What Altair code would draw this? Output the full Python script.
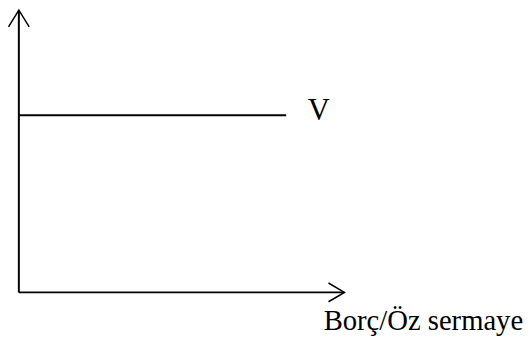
import altair as alt
import pandas as pd

# Diagram values (abstract units)
x_axis_end = [10.0]
y_axis_end = [10.0]
v_level = [6.28]
v_line_end = [8.21]
curve_labels = ["V"]
x_axis_title = ["Borç/Öz sermaye"]

FONT = "Liberation Serif"
xs = alt.Scale(domain=[0, 10])
ys = alt.Scale(domain=[0, 10])

axes_df = pd.DataFrame({
    "x": [0.0, 0.0], "y": [0.0, 0.0],
    "x2": [0.0, x_axis_end[0]], "y2": [y_axis_end[0], 0.0],
})
axes = alt.Chart(axes_df).mark_rule(color="black", strokeWidth=2).encode(
    x=alt.X("x:Q", scale=xs, axis=None),
    y=alt.Y("y:Q", scale=ys, axis=None),
    x2="x2:Q", y2="y2:Q",
)

v_df = pd.DataFrame({"x": [0.0], "x2": v_line_end, "y": v_level, "label": curve_labels})
v_line = alt.Chart(v_df).mark_rule(color="black", strokeWidth=2).encode(
    x=alt.X("x:Q", scale=xs, axis=None),
    x2="x2:Q",
    y=alt.Y("y:Q", scale=ys, axis=None),
)
v_text = alt.Chart(v_df).mark_text(
    font=FONT, fontSize=31, color="black", align="left", baseline="alphabetic", dx=22, dy=4.5
).encode(
    x=alt.X("x2:Q", scale=xs, axis=None),
    y=alt.Y("y:Q", scale=ys, axis=None),
    text="label:N",
)

top_df = pd.DataFrame({"x": [0.0], "y": y_axis_end})
top_arrow = alt.Chart(top_df).mark_point(
    shape="M-1,1.6L0,0L1,1.6", size=441, filled=False, color="black", strokeWidth=1.5, opacity=1
).encode(
    x=alt.X("x:Q", scale=xs, axis=None),
    y=alt.Y("y:Q", scale=ys, axis=None),
)

right_df = pd.DataFrame({"x": x_axis_end, "y": [0.0], "label": x_axis_title})
right_arrow = alt.Chart(right_df).mark_point(
    shape="M-1.7,-1L0,0L-1.7,1", size=361, filled=False, color="black", strokeWidth=1.5, opacity=1
).encode(
    x=alt.X("x:Q", scale=xs, axis=None),
    y=alt.Y("y:Q", scale=ys, axis=None),
)
x_title = alt.Chart(right_df).mark_text(
    font=FONT, fontSize=29, color="black", align="left", baseline="alphabetic", dx=-21, dy=38
).encode(
    x=alt.X("x:Q", scale=xs, axis=None),
    y=alt.Y("y:Q", scale=ys, axis=None),
    text="label:N",
)

chart = alt.layer(axes, v_line, v_text, top_arrow, right_arrow, x_title).properties(
    width=330,
    height=286,
    padding={"left": 11, "top": 0, "right": 181, "bottom": 44},
    autosize=alt.AutoSizeParams(type="none"),
    background="white",
).configure_view(strokeWidth=0)

chart.save("out.html", embed_options={"renderer": "svg", "actions": False})
